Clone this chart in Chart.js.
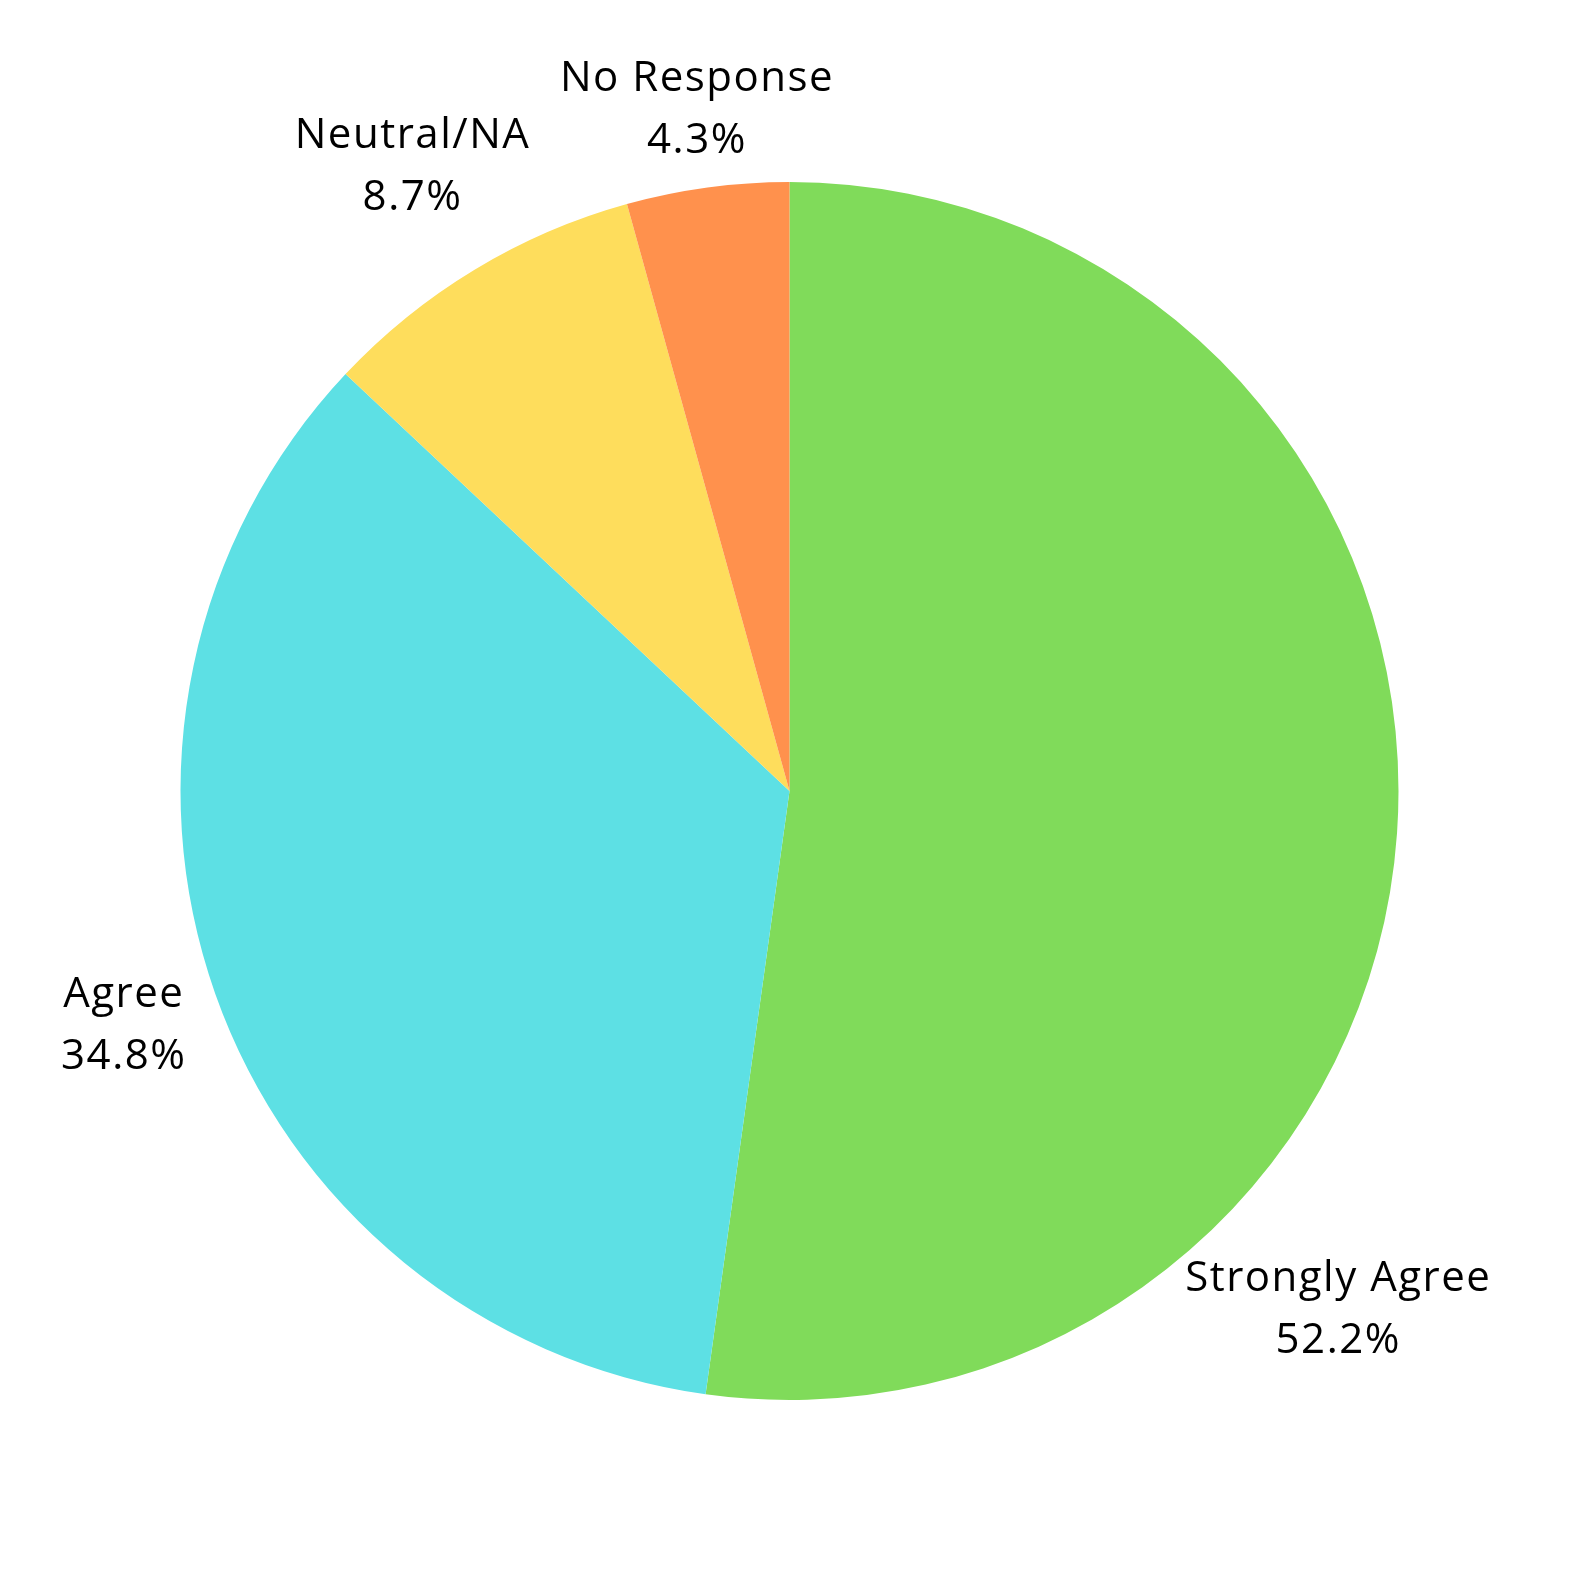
<!DOCTYPE html>
<html>
<head>
<meta charset="utf-8">
<script src="https://cdn.jsdelivr.net/npm/chart.js@4/dist/chart.umd.min.js"></script>
<style>
  html,body{margin:0;padding:0;background:#fff;overflow:hidden}
  #wrap{width:1580px;height:1580px;position:relative}
</style>
</head>
<body>
<div id="wrap"><canvas id="pie"></canvas></div>
<script>
// Данные
const labels = ['Strongly Agree', 'Agree', 'Neutral/NA', 'No Response'];
const values = [52.2, 34.8, 8.7, 4.3];
const colors = ['#80DB5A', '#5DE0E4', '#FEDD5C', '#FF914D'];

// подписи снаружи круга: название + процент
const outerLabels = {
  id: 'outerLabels',
  afterDatasetsDraw(chart, args, opts) {
    const ctx = chart.ctx;
    const meta = chart.getDatasetMeta(0);
    ctx.save();
    ctx.fillStyle = '#000';
    ctx.textAlign = 'center';
    ctx.textBaseline = 'middle';
    ctx.font = opts.font;
    if ('letterSpacing' in ctx) ctx.letterSpacing = opts.spacing;
    meta.data.forEach((arc, i) => {
      const {x, y, startAngle, endAngle, outerRadius} = arc.getProps(['x','y','startAngle','endAngle','outerRadius'], true);
      const a = (startAngle + endAngle) / 2 + (opts.angleShift[i] || 0);
      const r = outerRadius + (opts.gap[i] || 0);
      const lx = x + Math.cos(a) * r, ly = y + Math.sin(a) * r;
      ctx.fillText(labels[i], lx, ly - opts.lineH / 2);
      ctx.fillText(values[i].toFixed(1) + '%', lx, ly + opts.lineH / 2);
    });
    ctx.restore();
  }
};

new Chart(document.getElementById('pie'), {
  type: 'pie',
  data: {labels, datasets: [{data: values, backgroundColor: colors, borderWidth: 0, hoverOffset: 0, hoverBorderWidth: 0}]},
  options: {
    responsive: true, maintainAspectRatio: false, animation: false,
    layout: {padding: {left: 180, right: 181, top: 182, bottom: 180}},
    plugins: {
      legend: {display: false}, tooltip: {enabled: false},
      outerLabels: {font: '42px "Open Sans"', spacing: '1.5px', lineH: 62, angleShift: [0.688, 0, 0, 0], gap: [146, 97, 120, 78]}
    }
  },
  plugins: [outerLabels]
});
</script>
</body>
</html>
